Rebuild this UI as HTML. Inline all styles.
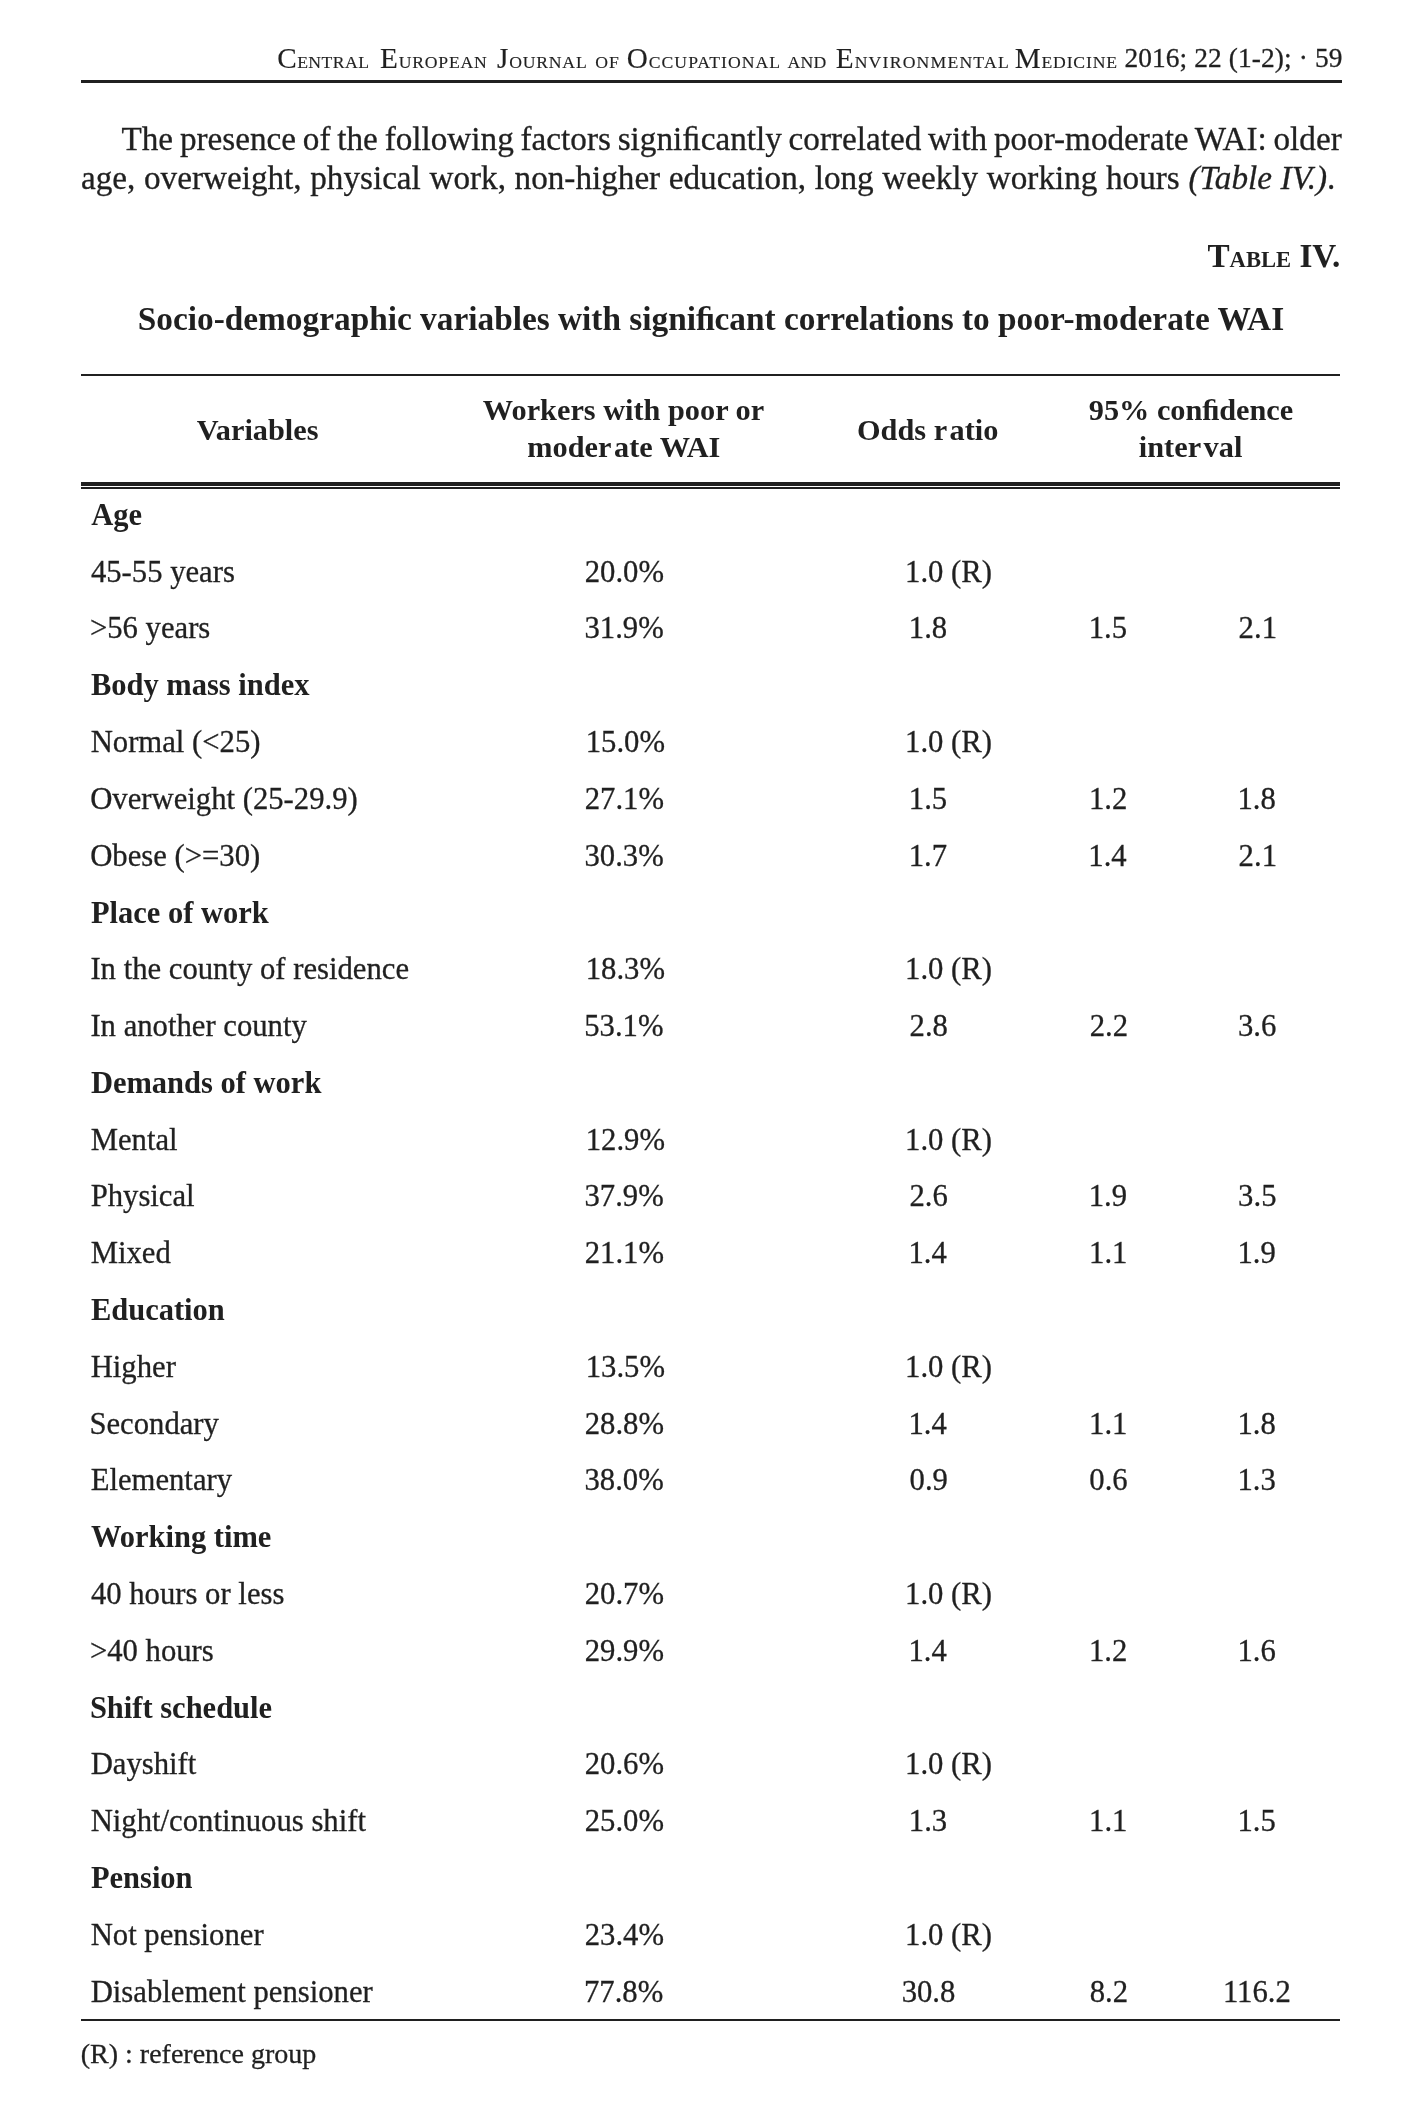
<!DOCTYPE html>
<html><head><meta charset="utf-8"><title>Table IV</title>
<style>
html,body{margin:0;padding:0;background:#fff;}
body{width:1415px;height:2104px;position:relative;overflow:hidden;font-family:"Liberation Serif",serif;color:#231f20;}
#pg{position:absolute;left:0;top:0;width:1415px;height:2104px;filter:grayscale(1);}
.t{position:absolute;white-space:pre;-webkit-text-stroke:0.3px #231f20;}
.b{font-weight:bold;-webkit-text-stroke:0;}
.sm{font-size:17.67px;}
.r{position:absolute;background:#231f20;}
</style></head><body><div id="pg">
<div class="t" style="left:277.25px;top:43.55px;font-size:29.2px;line-height:29.2px;letter-spacing:0.43px;-webkit-text-stroke:0.15px #231f20;">C<span class="sm">ENTRAL</span></div>
<div class="t" style="left:380.05px;top:43.55px;font-size:29.2px;line-height:29.2px;letter-spacing:0.80px;-webkit-text-stroke:0.15px #231f20;">E<span class="sm">UROPEAN</span></div>
<div class="t" style="left:497.00px;top:43.55px;font-size:29.2px;line-height:29.2px;letter-spacing:0.79px;-webkit-text-stroke:0.15px #231f20;">J<span class="sm">OURNAL</span></div>
<div class="t" style="left:595.15px;top:43.55px;font-size:29.2px;line-height:29.2px;letter-spacing:1.09px;-webkit-text-stroke:0.15px #231f20;"><span class="sm">OF</span></div>
<div class="t" style="left:626.65px;top:43.55px;font-size:29.2px;line-height:29.2px;letter-spacing:1.03px;-webkit-text-stroke:0.15px #231f20;">O<span class="sm">CCUPATIONAL</span></div>
<div class="t" style="left:787.55px;top:43.55px;font-size:29.2px;line-height:29.2px;letter-spacing:0.27px;-webkit-text-stroke:0.15px #231f20;"><span class="sm">AND</span></div>
<div class="t" style="left:835.65px;top:43.55px;font-size:29.2px;line-height:29.2px;letter-spacing:1.20px;-webkit-text-stroke:0.15px #231f20;">E<span class="sm">NVIRONMENTAL</span></div>
<div class="t" style="left:1014.75px;top:43.55px;font-size:29.2px;line-height:29.2px;letter-spacing:0.81px;-webkit-text-stroke:0.15px #231f20;">M<span class="sm">EDICINE</span></div>
<div class="t" style="left:1124.45px;top:45.05px;font-size:27.4px;line-height:27.4px;letter-spacing:0.1px;">2016; 22 (1-2); · 59</div>
<div class="r" style="left:81px;top:80px;width:1261px;height:2.8px"></div>
<div class="t" style="left:121.50px;top:122.09px;font-size:33.2px;line-height:33.2px;word-spacing:-1.47px;">The presence of the following factors signiﬁcantly correlated with poor-moderate WAI: older</div>
<div class="t" style="left:81.05px;top:160.59px;font-size:33.2px;line-height:33.2px;word-spacing:0.32px;">age, overweight, physical work, non-higher education, long weekly working hours <i>(Table IV.)</i>.</div>
<div class="t b" style="left:0.00px;top:238.89px;font-size:33.2px;line-height:33.2px;width:1340.3px;text-align:right;">T<span style="font-size:22.58px">ABLE</span> IV.</div>
<div class="t b" style="left:137.75px;top:302.07px;font-size:33.35px;line-height:33.35px;">Socio-demographic variables with signiﬁcant correlations to poor-moderate WAI</div>
<div class="r" style="left:81px;top:374px;width:1259px;height:2px"></div>
<div class="t b" style="left:196.75px;top:414.62px;font-size:30.3px;line-height:30.3px;">Variables</div>
<div class="t b" style="left:323.55px;top:395.32px;font-size:30.3px;line-height:30.3px;width:600.00px;text-align:center;">Workers with poor or</div>
<div class="t b" style="left:323.85px;top:432.12px;font-size:30.3px;line-height:30.3px;width:600.00px;text-align:center;">mode<span style="letter-spacing:2.5px">r</span>ate WAI</div>
<div class="t b" style="left:627.70px;top:414.82px;font-size:30.3px;line-height:30.3px;width:600.00px;text-align:center;">Odds <span style="letter-spacing:2.5px">r</span>atio</div>
<div class="t b" style="left:891.00px;top:395.12px;font-size:30.3px;line-height:30.3px;width:600.00px;text-align:center;">95% conﬁdence</div>
<div class="t b" style="left:890.60px;top:431.82px;font-size:30.3px;line-height:30.3px;width:600.00px;text-align:center;">inte<span style="letter-spacing:2.5px">r</span>val</div>
<div class="r" style="left:81px;top:482px;width:1259px;height:3.7px"></div>
<div class="r" style="left:81px;top:487.1px;width:1259px;height:1.9px"></div>
<div class="t b" style="left:91.15px;top:500.06px;font-size:30.5px;line-height:30.5px;">Age</div>
<div class="t" style="left:90.90px;top:556.69px;font-size:30.7px;line-height:30.7px;">45-55 years</div>
<div class="t" style="left:584.75px;top:556.69px;font-size:30.7px;line-height:30.7px;">20.0%</div>
<div class="t" style="left:905.05px;top:556.69px;font-size:30.7px;line-height:30.7px;">1.0 (R)</div>
<div class="t" style="left:89.90px;top:613.49px;font-size:30.7px;line-height:30.7px;">&gt;56 years</div>
<div class="t" style="left:584.50px;top:613.49px;font-size:30.7px;line-height:30.7px;">31.9%</div>
<div class="t" style="left:908.80px;top:613.49px;font-size:30.7px;line-height:30.7px;">1.8</div>
<div class="t" style="left:1088.70px;top:613.49px;font-size:30.7px;line-height:30.7px;">1.5</div>
<div class="t" style="left:1238.62px;top:613.49px;font-size:30.7px;line-height:30.7px;">2.1</div>
<div class="t b" style="left:90.90px;top:670.46px;font-size:30.5px;line-height:30.5px;">Body mass index</div>
<div class="t" style="left:90.65px;top:727.09px;font-size:30.7px;line-height:30.7px;">Normal (&lt;25)</div>
<div class="t" style="left:585.75px;top:727.09px;font-size:30.7px;line-height:30.7px;">15.0%</div>
<div class="t" style="left:905.05px;top:727.09px;font-size:30.7px;line-height:30.7px;">1.0 (R)</div>
<div class="t" style="left:90.15px;top:783.89px;font-size:30.7px;line-height:30.7px;">Overweight (25-29.9)</div>
<div class="t" style="left:584.75px;top:783.89px;font-size:30.7px;line-height:30.7px;">27.1%</div>
<div class="t" style="left:908.80px;top:783.89px;font-size:30.7px;line-height:30.7px;">1.5</div>
<div class="t" style="left:1088.95px;top:783.89px;font-size:30.7px;line-height:30.7px;">1.2</div>
<div class="t" style="left:1237.50px;top:783.89px;font-size:30.7px;line-height:30.7px;">1.8</div>
<div class="t" style="left:90.15px;top:840.69px;font-size:30.7px;line-height:30.7px;">Obese (&gt;=30)</div>
<div class="t" style="left:584.50px;top:840.69px;font-size:30.7px;line-height:30.7px;">30.3%</div>
<div class="t" style="left:908.67px;top:840.69px;font-size:30.7px;line-height:30.7px;">1.7</div>
<div class="t" style="left:1088.33px;top:840.69px;font-size:30.7px;line-height:30.7px;">1.4</div>
<div class="t" style="left:1238.62px;top:840.69px;font-size:30.7px;line-height:30.7px;">2.1</div>
<div class="t b" style="left:90.90px;top:897.66px;font-size:30.5px;line-height:30.5px;">Place of work</div>
<div class="t" style="left:90.40px;top:954.29px;font-size:30.7px;line-height:30.7px;">In the county of residence</div>
<div class="t" style="left:585.75px;top:954.29px;font-size:30.7px;line-height:30.7px;">18.3%</div>
<div class="t" style="left:905.05px;top:954.29px;font-size:30.7px;line-height:30.7px;">1.0 (R)</div>
<div class="t" style="left:90.40px;top:1011.09px;font-size:30.7px;line-height:30.7px;">In another county</div>
<div class="t" style="left:584.25px;top:1011.09px;font-size:30.7px;line-height:30.7px;">53.1%</div>
<div class="t" style="left:909.55px;top:1011.09px;font-size:30.7px;line-height:30.7px;">2.8</div>
<div class="t" style="left:1089.70px;top:1011.09px;font-size:30.7px;line-height:30.7px;">2.2</div>
<div class="t" style="left:1238.00px;top:1011.09px;font-size:30.7px;line-height:30.7px;">3.6</div>
<div class="t b" style="left:90.90px;top:1068.06px;font-size:30.5px;line-height:30.5px;">Demands of work</div>
<div class="t" style="left:90.65px;top:1124.69px;font-size:30.7px;line-height:30.7px;">Mental</div>
<div class="t" style="left:585.75px;top:1124.69px;font-size:30.7px;line-height:30.7px;">12.9%</div>
<div class="t" style="left:905.05px;top:1124.69px;font-size:30.7px;line-height:30.7px;">1.0 (R)</div>
<div class="t" style="left:90.65px;top:1181.49px;font-size:30.7px;line-height:30.7px;">Physical</div>
<div class="t" style="left:584.50px;top:1181.49px;font-size:30.7px;line-height:30.7px;">37.9%</div>
<div class="t" style="left:909.42px;top:1181.49px;font-size:30.7px;line-height:30.7px;">2.6</div>
<div class="t" style="left:1088.70px;top:1181.49px;font-size:30.7px;line-height:30.7px;">1.9</div>
<div class="t" style="left:1238.12px;top:1181.49px;font-size:30.7px;line-height:30.7px;">3.5</div>
<div class="t" style="left:90.65px;top:1238.29px;font-size:30.7px;line-height:30.7px;">Mixed</div>
<div class="t" style="left:584.75px;top:1238.29px;font-size:30.7px;line-height:30.7px;">21.1%</div>
<div class="t" style="left:908.42px;top:1238.29px;font-size:30.7px;line-height:30.7px;">1.4</div>
<div class="t" style="left:1089.08px;top:1238.29px;font-size:30.7px;line-height:30.7px;">1.1</div>
<div class="t" style="left:1237.50px;top:1238.29px;font-size:30.7px;line-height:30.7px;">1.9</div>
<div class="t b" style="left:90.90px;top:1295.26px;font-size:30.5px;line-height:30.5px;">Education</div>
<div class="t" style="left:90.65px;top:1351.89px;font-size:30.7px;line-height:30.7px;">Higher</div>
<div class="t" style="left:585.75px;top:1351.89px;font-size:30.7px;line-height:30.7px;">13.5%</div>
<div class="t" style="left:905.05px;top:1351.89px;font-size:30.7px;line-height:30.7px;">1.0 (R)</div>
<div class="t" style="left:89.40px;top:1408.69px;font-size:30.7px;line-height:30.7px;">Secondary</div>
<div class="t" style="left:584.75px;top:1408.69px;font-size:30.7px;line-height:30.7px;">28.8%</div>
<div class="t" style="left:908.42px;top:1408.69px;font-size:30.7px;line-height:30.7px;">1.4</div>
<div class="t" style="left:1089.08px;top:1408.69px;font-size:30.7px;line-height:30.7px;">1.1</div>
<div class="t" style="left:1237.50px;top:1408.69px;font-size:30.7px;line-height:30.7px;">1.8</div>
<div class="t" style="left:90.65px;top:1465.49px;font-size:30.7px;line-height:30.7px;">Elementary</div>
<div class="t" style="left:584.50px;top:1465.49px;font-size:30.7px;line-height:30.7px;">38.0%</div>
<div class="t" style="left:909.55px;top:1465.49px;font-size:30.7px;line-height:30.7px;">0.9</div>
<div class="t" style="left:1089.33px;top:1465.49px;font-size:30.7px;line-height:30.7px;">0.6</div>
<div class="t" style="left:1237.50px;top:1465.49px;font-size:30.7px;line-height:30.7px;">1.3</div>
<div class="t b" style="left:90.90px;top:1522.46px;font-size:30.5px;line-height:30.5px;">Working time</div>
<div class="t" style="left:90.90px;top:1579.09px;font-size:30.7px;line-height:30.7px;">40 hours or less</div>
<div class="t" style="left:584.75px;top:1579.09px;font-size:30.7px;line-height:30.7px;">20.7%</div>
<div class="t" style="left:905.05px;top:1579.09px;font-size:30.7px;line-height:30.7px;">1.0 (R)</div>
<div class="t" style="left:89.90px;top:1635.89px;font-size:30.7px;line-height:30.7px;">&gt;40 hours</div>
<div class="t" style="left:584.75px;top:1635.89px;font-size:30.7px;line-height:30.7px;">29.9%</div>
<div class="t" style="left:908.42px;top:1635.89px;font-size:30.7px;line-height:30.7px;">1.4</div>
<div class="t" style="left:1088.95px;top:1635.89px;font-size:30.7px;line-height:30.7px;">1.2</div>
<div class="t" style="left:1237.38px;top:1635.89px;font-size:30.7px;line-height:30.7px;">1.6</div>
<div class="t b" style="left:89.90px;top:1692.86px;font-size:30.5px;line-height:30.5px;">Shift schedule</div>
<div class="t" style="left:90.65px;top:1749.49px;font-size:30.7px;line-height:30.7px;">Dayshift</div>
<div class="t" style="left:584.75px;top:1749.49px;font-size:30.7px;line-height:30.7px;">20.6%</div>
<div class="t" style="left:905.05px;top:1749.49px;font-size:30.7px;line-height:30.7px;">1.0 (R)</div>
<div class="t" style="left:90.65px;top:1806.29px;font-size:30.7px;line-height:30.7px;">Night/continuous shift</div>
<div class="t" style="left:584.75px;top:1806.29px;font-size:30.7px;line-height:30.7px;">25.0%</div>
<div class="t" style="left:908.80px;top:1806.29px;font-size:30.7px;line-height:30.7px;">1.3</div>
<div class="t" style="left:1089.08px;top:1806.29px;font-size:30.7px;line-height:30.7px;">1.1</div>
<div class="t" style="left:1237.50px;top:1806.29px;font-size:30.7px;line-height:30.7px;">1.5</div>
<div class="t b" style="left:90.90px;top:1863.26px;font-size:30.5px;line-height:30.5px;">Pension</div>
<div class="t" style="left:90.65px;top:1919.89px;font-size:30.7px;line-height:30.7px;">Not pensioner</div>
<div class="t" style="left:584.75px;top:1919.89px;font-size:30.7px;line-height:30.7px;">23.4%</div>
<div class="t" style="left:905.05px;top:1919.89px;font-size:30.7px;line-height:30.7px;">1.0 (R)</div>
<div class="t" style="left:90.65px;top:1976.69px;font-size:30.7px;line-height:30.7px;">Disablement pensioner</div>
<div class="t" style="left:584.00px;top:1976.69px;font-size:30.7px;line-height:30.7px;">77.8%</div>
<div class="t" style="left:901.67px;top:1976.69px;font-size:30.7px;line-height:30.7px;">30.8</div>
<div class="t" style="left:1089.70px;top:1976.69px;font-size:30.7px;line-height:30.7px;">8.2</div>
<div class="t" style="left:1222.88px;top:1976.69px;font-size:30.7px;line-height:30.7px;">116.2</div>
<div class="r" style="left:81px;top:2019px;width:1259px;height:2px"></div>
<div class="t" style="left:80.75px;top:2040.45px;font-size:28px;line-height:28px;">(R) : reference group</div>
</div></body></html>
